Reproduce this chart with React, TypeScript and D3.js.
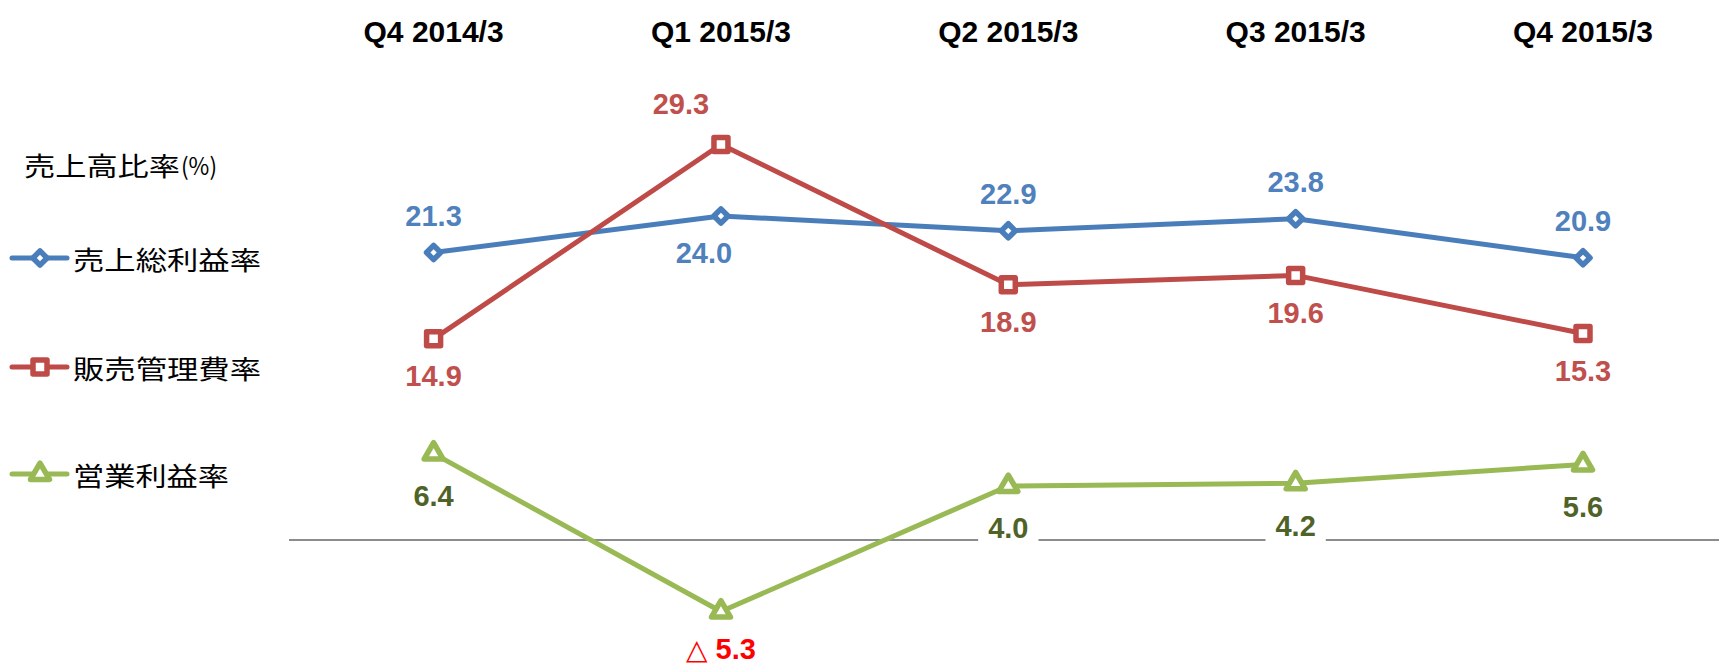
import React from "react";
import * as d3 from "d3";

const categories = ["Q4 2014/3", "Q1 2015/3", "Q2 2015/3", "Q3 2015/3", "Q4 2015/3"];
const grossMargin = [21.3, 24.0, 22.9, 23.8, 20.9];
const sgaRatio = [14.9, 29.3, 18.9, 19.6, 15.3];
const operatingMargin = [6.4, -5.3, 4.0, 4.2, 5.6];
const seriesNames = ["売上総利益率", "販売管理費率", "営業利益率"];
const axisTitle = "売上高比率";
const axisUnit = "(%)";

// label placement per point (above / below) and horizontal nudge
const grossPlace = ["above", "below", "above", "above", "above"];
const sgaPlace = ["below", "above", "below", "below", "below"];
const opPlace = ["below", "below", "below", "below", "below"];
const grossDx = [0, -17, 0, 0, 0];
const sgaDx = [0, -40, 0, 0, 0];
const opDx = [0, 0, 0, 0, 0];

const W = 1719;
const H = 667;

type Series = {
  name: string;
  values: number[];
  color: string;
  labelColor: string;
  marker: "diamond" | "square" | "triangle";
  place: string[];
  dx: number[];
  labelBg: boolean;
  legendY: number;
  legendWidth: number;
};

const series: Series[] = [
  {
    name: seriesNames[0],
    values: grossMargin,
    color: "#4A7EBB",
    labelColor: "#4F81BD",
    marker: "diamond",
    place: grossPlace,
    dx: grossDx,
    labelBg: false,
    legendY: 258,
    legendWidth: 188,
  },
  {
    name: seriesNames[1],
    values: sgaRatio,
    color: "#BE4B48",
    labelColor: "#C0504D",
    marker: "square",
    place: sgaPlace,
    dx: sgaDx,
    labelBg: false,
    legendY: 367,
    legendWidth: 188,
  },
  {
    name: seriesNames[2],
    values: operatingMargin,
    color: "#98B954",
    labelColor: "#4F6228",
    marker: "triangle",
    place: opPlace,
    dx: opDx,
    labelBg: true,
    legendY: 474,
    legendWidth: 156,
  },
];

const x = d3.scalePoint<string>().domain(categories).range([433.6, 1583]);
const y = d3.scaleLinear().domain([-7, 31]).range([634.5, 121.5]);

const markerPath = (m: string) => {
  if (m === "diamond") {
    const s = 10;
    return d3.symbol().type(d3.symbolSquare).size(s * s)()!;
  }
  if (m === "square") {
    const s = 14;
    return d3.symbol().type(d3.symbolSquare).size(s * s)()!;
  }
  const a = 19;
  return d3.symbol().type(d3.symbolTriangle).size((Math.sqrt(3) / 4) * a * a)()!;
};

const Marker = ({ m, cx, cy, color }: { m: string; cx: number; cy: number; color: string }) => (
  <path
    d={markerPath(m)}
    transform={`translate(${cx},${cy})${m === "diamond" ? " rotate(45)" : ""}`}
    fill="#FFFFFF"
    stroke={color}
    strokeWidth={5.5}
    strokeLinejoin="round"
  />
);

const LABEL_FONT = 29;
const approxWidth = (s: string) => {
  let w = 0;
  for (const ch of s) w += ch === "." ? 0.278 : 0.556;
  return w * LABEL_FONT;
};

export default function App() {
  const line = d3
    .line<number>()
    .x((_, i) => x(categories[i])!)
    .y((v) => y(v));

  return (
    <svg
      width={W}
      height={H}
      viewBox={`0 0 ${W} ${H}`}
      style={{ position: "absolute", left: 0, top: 0, background: "#FFFFFF" }}
    >
      <rect x={0} y={0} width={W} height={H} fill="#FFFFFF" />

      {/* category titles */}
      {categories.map((c) => (
        <text
          key={c}
          x={x(c)}
          y={42}
          textAnchor="middle"
          fontFamily="'Liberation Sans', Arial, sans-serif"
          fontWeight="bold"
          fontSize={30}
          fill="#000000"
        >
          {c}
        </text>
      ))}

      {/* zero line */}
      <line x1={289} x2={W} y1={y(0)} y2={y(0)} stroke="#8C8C8C" strokeWidth={2} />

      {/* lines */}
      {series.map((s) => (
        <path
          key={s.name + "-line"}
          d={line(s.values)!}
          fill="none"
          stroke={s.color}
          strokeWidth={5}
          strokeLinejoin="round"
        />
      ))}

      {/* markers */}
      {series.map((s) =>
        s.values.map((v, i) => (
          <Marker key={s.name + i} m={s.marker} cx={x(categories[i])!} cy={y(v)} color={s.color} />
        ))
      )}

      {/* data labels */}
      {series.map((s) =>
        s.values.map((v, i) => {
          const cx = x(categories[i])! + s.dx[i];
          const off = s.marker === "triangle" ? 42 : 37;
          const cy =
            y(v) +
            (s.place[i] === "above" ? -off : off) +
            (s.marker === "square" && s.place[i] === "above" ? -4 : 0);
          const neg = v < 0;
          const numText = d3.format(".1f")(Math.abs(v));
          const w = approxWidth(numText);
          return (
            <g key={s.name + "-lbl" + i}>
              {s.labelBg && (
                <rect x={cx - w / 2 - 10} y={cy - 18} width={w + 20} height={36} fill="#FFFFFF" />
              )}
              {neg ? (
                <text
                  x={cx}
                  y={cy + 5.5}
                  textAnchor="middle"
                  fontFamily="'Liberation Sans', Arial, sans-serif"
                  fontWeight="bold"
                  fontSize={LABEL_FONT}
                  fill="#FF0000"
                >
                  <tspan fontFamily="'DejaVu Sans', sans-serif" fontWeight="normal" fontSize={28}>
                    △
                  </tspan>
                  {" " + numText}
                </text>
              ) : (
                <text
                  x={cx}
                  y={cy + 10.4}
                  textAnchor="middle"
                  fontFamily="'Liberation Sans', Arial, sans-serif"
                  fontWeight="bold"
                  fontSize={LABEL_FONT}
                  fill={s.labelColor}
                >
                  {numText}
                </text>
              )}
            </g>
          );
        })
      )}

      {/* legend */}
      <text
        x={24}
        y={164}
        dominantBaseline="central"
        fontFamily="'Noto Sans CJK JP', sans-serif"
        fontSize={26}
        fill="#000000"
        textLength={156}
        lengthAdjust="spacingAndGlyphs"
      >
        {axisTitle}
      </text>
      <text
        x={181}
        y={164}
        dominantBaseline="central"
        fontFamily="'Noto Sans CJK JP', sans-serif"
        fontSize={24}
        fill="#000000"
        textLength={36}
        lengthAdjust="spacingAndGlyphs"
      >
        {axisUnit}
      </text>
      {series.map((s) => (
        <g key={s.name + "-legend"}>
          <line x1={12} x2={67} y1={s.legendY} y2={s.legendY} stroke={s.color} strokeWidth={5} strokeLinecap="round" />
          <Marker m={s.marker} cx={40} cy={s.legendY} color={s.color} />
          <text
            x={73}
            y={s.legendY}
            dominantBaseline="central"
            fontFamily="'Noto Sans CJK JP', sans-serif"
            fontSize={26}
            fill="#000000"
            textLength={s.legendWidth}
            lengthAdjust="spacingAndGlyphs"
          >
            {s.name}
          </text>
        </g>
      ))}
    </svg>
  );
}
